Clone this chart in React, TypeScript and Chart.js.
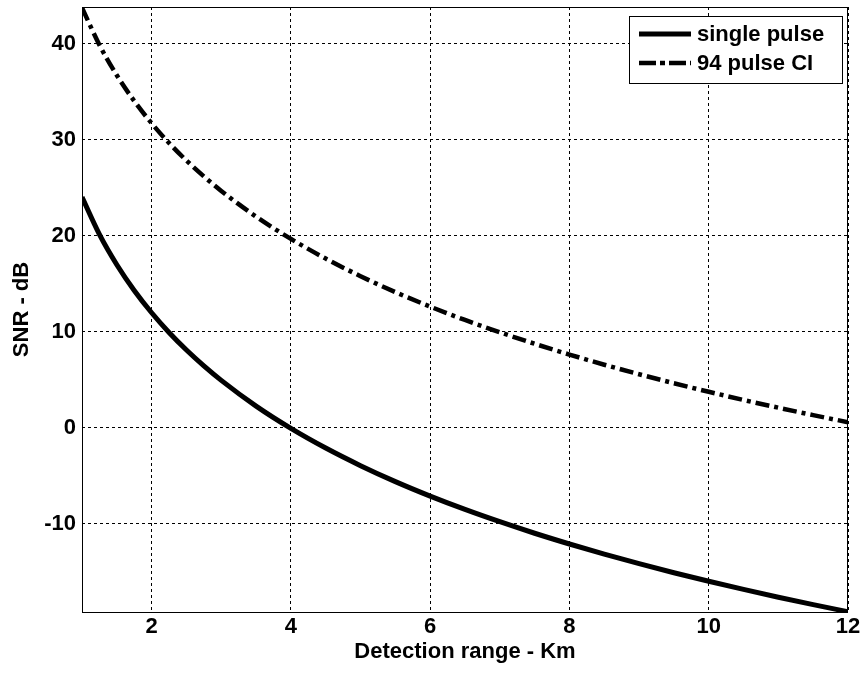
import React, { useEffect, useRef } from "react";
import { Chart, registerables } from "chart.js";

Chart.register(...registerables);

const rangeKm = [1, 1.25, 1.5, 1.75, 2, 2.25, 2.5, 2.75, 3, 3.5, 4, 4.5, 5, 5.5, 6, 6.5, 7, 7.5, 8, 8.5, 9, 9.5, 10, 10.5, 11, 11.5, 12];
const snrSingle = [24.0, 20.12, 16.96, 14.28, 11.96, 9.91, 8.08, 6.43, 4.92, 2.24, -0.08, -2.13, -3.96, -5.62, -7.13, -8.52, -9.8, -11.0, -12.12, -13.18, -14.17, -15.11, -16.0, -16.85, -17.66, -18.43, -19.17];
const snrCI = [43.73, 39.85, 36.69, 34.01, 31.69, 29.64, 27.81, 26.16, 24.65, 21.97, 19.65, 17.6, 15.77, 14.11, 12.6, 11.21, 9.93, 8.73, 7.61, 6.55, 5.56, 4.62, 3.73, 2.88, 2.07, 1.3, 0.56];
const seriesLabels = ["single pulse", "94 pulse CI"];
const xTicks = [2, 4, 6, 8, 10, 12];
const yTicks = [-10, 0, 10, 20, 30, 40];
const xTitle = "Detection range - Km";
const yTitle = "SNR - dB";

const FONT = "'Liberation Sans', Arial, sans-serif";

const boxAndLegend = {
  id: "boxAndLegend",
  afterDraw(chart: any) {
    const { ctx, chartArea } = chart;
    ctx.save();
    ctx.strokeStyle = "#000";
    ctx.lineWidth = 1;
    ctx.setLineDash([]);
    ctx.strokeRect(chartArea.left + 0.5, chartArea.top + 0.5, chartArea.right - chartArea.left - 1, chartArea.bottom - chartArea.top);

    // legend
    const lx = 629, ly = 16, lw = 213, lh = 67;
    ctx.fillStyle = "#fff";
    ctx.fillRect(lx, ly, lw, lh);
    ctx.strokeRect(lx + 0.5, ly + 0.5, lw, lh);
    const rows = [34, 63];
    chart.data.datasets.forEach((ds: any, i: number) => {
      const y = rows[i];
      ctx.beginPath();
      ctx.lineWidth = ds.borderWidth;
      ctx.lineCap = "butt";
      ctx.setLineDash(i === 0 ? [] : [17, 4, 5, 4]);
      ctx.moveTo(639, y);
      ctx.lineTo(691, y);
      ctx.stroke();
      ctx.setLineDash([]);
      ctx.fillStyle = "#000";
      ctx.font = `bold 22px ${FONT}`;
      ctx.textBaseline = "middle";
      ctx.textAlign = "left";
      ctx.fillText(ds.label, 697, y + 1);
    });
    ctx.restore();
  },
};

export default function App() {
  const ref = useRef<HTMLCanvasElement | null>(null);
  useEffect(() => {
    document.body.style.margin = "0";
    const canvas = ref.current!;
    const chart = new Chart(canvas, {
      type: "line",
      data: {
        datasets: [
          {
            label: seriesLabels[0],
            data: rangeKm.map((x, i) => ({ x, y: snrSingle[i] })),
            borderColor: "#000",
            borderWidth: 5,
            pointRadius: 0,
            cubicInterpolationMode: "monotone",
            fill: false,
          },
          {
            label: seriesLabels[1],
            data: rangeKm.map((x, i) => ({ x, y: snrCI[i] })),
            borderColor: "#000",
            borderWidth: 4.5,
            borderDash: [14, 5, 4, 5],
            pointRadius: 0,
            cubicInterpolationMode: "monotone",
            fill: false,
          },
        ],
      },
      options: {
        animation: false,
        responsive: true,
        maintainAspectRatio: false,
        layout: { padding: { top: 7, right: 18, left: 0, bottom: 0 } },
        plugins: { legend: { display: false }, tooltip: { enabled: false } },
        scales: {
          x: {
            type: "linear",
            min: 1,
            max: 12,
            afterBuildTicks: (s: any) => {
              s.ticks = xTicks.map((v) => ({ value: v }));
            },
            afterFit: (s: any) => {
              s.height = 65;
              s.paddingLeft = 0;
              s.paddingRight = 0;
            },
            grid: { color: "#000", lineWidth: 1, tickLength: 0, drawTicks: false },
            border: { display: false, dash: [3, 3] },
            ticks: {
              color: "#000",
              padding: 2,
              maxRotation: 0,
              font: { family: FONT, size: 22, weight: "bold" },
            },
            title: {
              display: true,
              text: xTitle,
              color: "#000",
              padding: { top: 0, bottom: 12 },
              font: { family: FONT, size: 22, weight: "bold" },
            },
          },
          y: {
            type: "linear",
            min: -19.2,
            max: 43.8,
            afterBuildTicks: (s: any) => {
              s.ticks = yTicks.map((v) => ({ value: v }));
            },
            afterFit: (s: any) => {
              s.width = 82;
              s.paddingTop = 0;
              s.paddingBottom = 0;
            },
            grid: { color: "#000", lineWidth: 1, drawTicks: false },
            border: { display: false, dash: [3, 3] },
            ticks: {
              color: "#000",
              padding: 6,
              font: { family: FONT, size: 22, weight: "bold" },
            },
            title: {
              display: true,
              text: yTitle,
              color: "#000",
              padding: { top: 9, bottom: 0 },
              font: { family: FONT, size: 22, weight: "bold" },
            },
          },
        },
      },
      plugins: [boxAndLegend],
    } as any);
    return () => chart.destroy();
  }, []);
  return (
    <div style={{ position: "absolute", left: 0, top: 0, width: 866, height: 677, background: "#fff" }}>
      <canvas ref={ref} />
    </div>
  );
}
